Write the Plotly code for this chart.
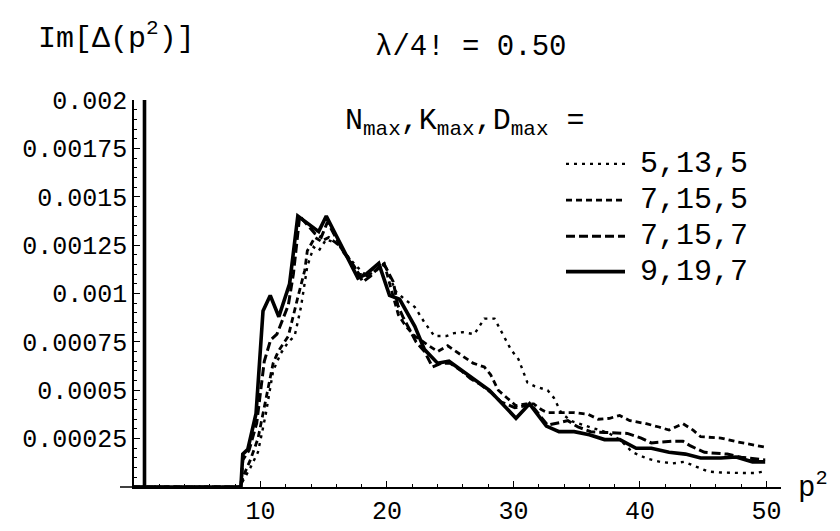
import plotly.graph_objects as go

# ---------------- data ----------------
series_names = ["5,13,5", "7,15,5", "7,15,7", "9,19,7"]

p2_5_13_5 = [0, 8.45, 8.6, 9.2, 9.8, 10.4, 11.0, 11.6, 12.2, 12.7, 13.2, 13.7, 14.2, 14.6, 15.2, 16.0,
             16.8, 17.6, 18.4, 19.2, 19.8, 20.7, 21.4, 22.2, 22.97, 23.75, 24.7, 25.3, 26.0, 26.9, 27.7,
             28.5, 29.15, 29.8, 30.4, 31.1, 31.7, 32.7, 33.2, 33.8, 34.6, 35.5, 36.5, 37.5, 38.5, 39.4,
             40.6, 41.6, 42.6, 43.5, 44.4, 45.4, 46.4, 47.5, 48.3, 49.05, 49.8]
im_5_13_5 = [0, 0, 0.00003, 0.0001, 0.00018, 0.00037, 0.0006, 0.00069, 0.00075, 0.00078, 0.00093, 0.00114,
             0.00124, 0.00122, 0.00128, 0.00126, 0.0012, 0.00114, 0.00109, 0.00112, 0.001156, 0.00101,
             0.00097, 0.00093, 0.00085, 0.00078, 0.00078, 0.000795, 0.0008, 0.00079, 0.00087, 0.00087,
             0.00079, 0.00071, 0.00066, 0.00054, 0.00052, 0.0005, 0.00046, 0.00038, 0.00034, 0.00032,
             0.0003, 0.00028, 0.00024, 0.00018, 0.000146, 0.00013, 0.000122, 0.00013, 0.000105, 0.00008,
             0.000075, 0.000072, 0.000072, 0.000072, 0.00008]

p2_7_15_5 = [0, 8.45, 8.6, 9.2, 9.8, 10.4, 11.0, 11.4, 12.2, 12.95, 13.5, 13.7, 14.3, 14.8, 15.4, 16.2,
             17.0, 17.8, 18.5, 19.3, 19.8, 20.3, 20.9, 21.5, 22.2, 23.1, 24.0, 24.8, 25.5, 26.8, 27.7,
             28.2, 28.8, 29.5, 30.2, 31.0, 31.6, 32.2, 32.7, 33.9, 34.8, 35.9, 36.7, 37.6, 38.4, 39.2,
             40.5, 41.5, 42.3, 43.4, 44.2, 44.8, 46.4, 47.5, 48.8, 49.8]
im_7_15_5 = [0, 0, 0.00005, 0.00014, 0.00025, 0.00045, 0.00064, 0.0007, 0.00078, 0.00098, 0.00112, 0.00122,
             0.00129, 0.00127, 0.00129, 0.00125, 0.00118, 0.0011, 0.00109, 0.00113, 0.00115, 0.00103,
             0.00089, 0.00083, 0.00078, 0.00074, 0.0007, 0.00073, 0.0007, 0.00064, 0.00062, 0.00058,
             0.0005, 0.00046, 0.00042, 0.00043, 0.00043, 0.0004, 0.000384, 0.000384, 0.000384, 0.000376,
             0.00035, 0.000355, 0.00037, 0.000343, 0.000327, 0.00031, 0.000294, 0.000327, 0.000294,
             0.00026, 0.000253, 0.000236, 0.00022, 0.000207]

p2_7_15_7 = [0, 8.45, 8.6, 9.1, 9.7, 10.3, 10.8, 11.3, 11.6, 12.2, 12.6, 13.1, 14.3, 14.8, 15.3, 16.6,
             17.4, 18.1, 18.7, 19.7, 20.5, 20.85, 21.25, 21.65, 22.3, 22.97, 23.6, 24.3, 25.0, 25.9, 26.6,
             27.4, 28.2, 29.0, 30.1, 30.9, 31.4, 32.2, 32.7, 33.8, 34.3, 35.1, 36.1, 37.2, 39.0, 40.1,
             40.9, 42.5, 43.4, 44.0, 45.1, 46.9, 48.0, 49.9]
im_7_15_7 = [0, 0, 0.00014, 0.00019, 0.00033, 0.00065, 0.00076, 0.00079, 0.00084, 0.00094, 0.0011, 0.0014,
             0.00131, 0.00129, 0.00137, 0.00121, 0.00114, 0.00106, 0.00109, 0.00116, 0.00106, 0.00094,
             0.00088, 0.00083, 0.00075, 0.0007, 0.00062, 0.00064, 0.00064, 0.0006, 0.00056, 0.00053,
             0.00049, 0.00044, 0.00041, 0.00042, 0.000425, 0.00036, 0.00032, 0.000335, 0.000343, 0.00031,
             0.000286, 0.000282, 0.000277, 0.000253, 0.000228, 0.000236, 0.000236, 0.000212, 0.000179,
             0.00017, 0.000154, 0.00014]

p2_9_19_7 = [0, 8.45, 8.6, 9.0, 9.65, 10.2, 10.77, 11.45, 12.3, 12.95, 14.6, 15.2, 17.7, 18.35, 19.35,
             20.2, 21.0, 22.2, 22.97, 24.0, 24.9, 26.4, 28.1, 29.55, 30.2, 31.27, 32.6, 33.6, 34.8, 36.0,
             37.2, 38.4, 39.7, 40.9, 42.3, 43.6, 44.8, 46.4, 47.6, 48.9, 49.9]
im_9_19_7 = [0, 0, 0.00017, 0.000195, 0.00038, 0.00091, 0.00099, 0.00088, 0.00105, 0.0014, 0.00132, 0.0014,
             0.00108, 0.0011, 0.001156, 0.00099, 0.00097, 0.00083, 0.00071, 0.00064, 0.00065, 0.00058,
             0.0005, 0.0004, 0.000355, 0.00043, 0.000315, 0.000286, 0.000286, 0.00027, 0.000245,
             0.000245, 0.0002, 0.0002, 0.00018, 0.00017, 0.00015, 0.00015, 0.000155, 0.00013, 0.00013]

# bound-state pole (delta-function spike, runs off the top of the plot)
pole_p2 = [0.83, 0.83]
pole_im = [0, 0.003]

x_tick_vals = [10, 20, 30, 40, 50]
y_tick_vals = [0.00025, 0.0005, 0.00075, 0.001, 0.00125, 0.0015, 0.00175, 0.002]
y_tick_text = ["0.00025", "0.0005", "0.00075", "0.001", "0.00125", "0.0015", "0.00175", "0.002"]

# ---------------- styling ----------------
FONT = "Liberation Mono, Courier New, monospace"
xs = [p2_5_13_5, p2_7_15_5, p2_7_15_7, p2_9_19_7]
ys = [im_5_13_5, im_7_15_5, im_7_15_7, im_9_19_7]
dashes = ["3px,5px", "6px,4px", "9px,4px", "solid"]
widths = [2.4, 2.8, 3.0, 3.6]

fig = go.Figure()
for name, x, y, d, w in zip(series_names, xs, ys, dashes, widths):
    fig.add_trace(go.Scatter(x=x, y=y, mode="lines", name=name,
                             line=dict(color="black", width=w, dash=d), showlegend=False))
fig.add_trace(go.Scatter(x=pole_p2, y=pole_im, mode="lines", name="pole",
                         line=dict(color="black", width=3.6), showlegend=False))

# plot-area pixel geometry helpers (for legend / labels only)
L, R, T, B, W, H = 126, 67, 92, 33, 840, 531
PW, PH = W - L - R, H - T - B
def px(xp):
    return (xp - L) / PW
def py(yp):
    return (H - B - yp) / PH

shapes = [dict(type="line", xref="paper", yref="paper", x0=px(112), x1=0, y0=0, y1=0,
               line=dict(color="black", width=1.5))]
annotations = []
row_y = [159, 197, 235, 272]
for name, d, w, ry in zip(series_names, dashes, widths, row_y):
    shapes.append(dict(type="line", xref="paper", yref="paper", x0=px(558), x1=px(617),
                       y0=py(ry), y1=py(ry), line=dict(color="black", width=w, dash=d)))
    annotations.append(dict(text=name, xref="paper", yref="paper", x=px(630), y=py(ry),
                            xanchor="left", yanchor="middle", showarrow=False,
                            font=dict(family=FONT, size=30, color="black")))

annotations += [
    dict(text="N<sub>max</sub>,K<sub>max</sub>,D<sub>max</sub> =", xref="paper", yref="paper",
         x=px(335), y=py(116), xanchor="left", yanchor="middle", showarrow=False,
         font=dict(family=FONT, size=30, color="black")),
    dict(text="Im[Δ(p<sup>2</sup>)]", xref="paper", yref="paper", x=px(28), y=py(25),
         xanchor="left", yanchor="middle", showarrow=False,
         font=dict(family=FONT, size=30, color="black")),
    dict(text="λ/4! = 0.50", xref="paper", yref="paper", x=px(365), y=py(37),
         xanchor="left", yanchor="middle", showarrow=False,
         font=dict(family=FONT, size=29, color="black")),
    dict(text="p<sup>2</sup>", xref="paper", yref="paper", x=px(788), y=py(497),
         xanchor="left", yanchor="middle", showarrow=False,
         font=dict(family=FONT, size=29, color="black")),
]

fig.update_layout(
    width=W, height=H,
    margin=dict(l=L, r=R, t=T, b=B, pad=0),
    paper_bgcolor="white", plot_bgcolor="white",
    showlegend=False,
    font=dict(family=FONT, color="black"),
    shapes=shapes, annotations=annotations,
    xaxis=dict(range=[0, 51.15], showline=True, linecolor="black", linewidth=1.5,
               showgrid=False, zeroline=False, ticks="inside", ticklen=6, tickwidth=1.2,
               tickcolor="black", tickvals=x_tick_vals, tickfont=dict(family=FONT, size=25),
               minor=dict(ticks="inside", ticklen=3, tickwidth=1, tickcolor="black",
                          dtick=2, tick0=0, showgrid=False)),
    yaxis=dict(range=[0, 0.002], showline=True, linecolor="black", linewidth=1.5,
               showgrid=False, zeroline=False, ticks="inside", ticklen=6, tickwidth=1.2,
               tickcolor="black", tickvals=y_tick_vals, ticktext=y_tick_text,
               tickfont=dict(family=FONT, size=25),
               minor=dict(ticks="inside", ticklen=3, tickwidth=1, tickcolor="black",
                          dtick=0.00005, tick0=0, showgrid=False)),
)

fig.write_html("out.html")
